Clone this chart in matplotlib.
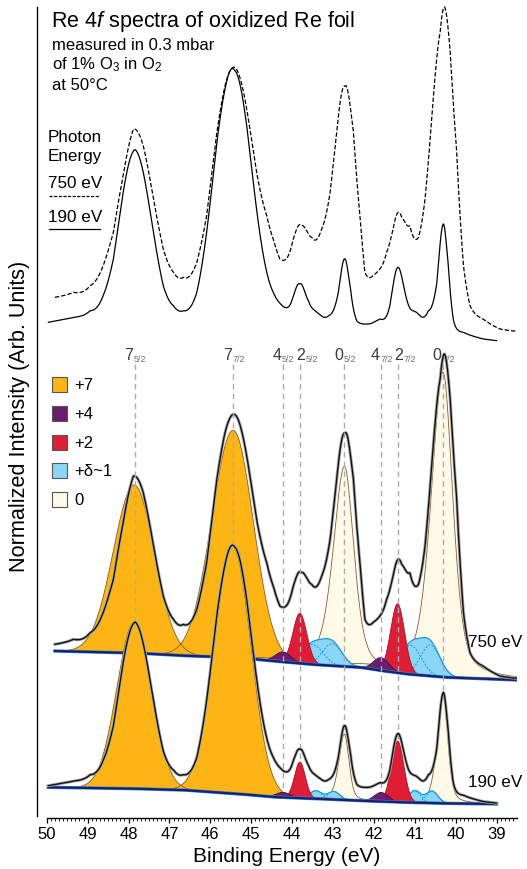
import numpy as np
import matplotlib
matplotlib.use("Agg")
import matplotlib.pyplot as plt
from matplotlib.patches import Rectangle
from matplotlib.lines import Line2D

plt.rcParams['font.family'] = ['Liberation Sans', 'DejaVu Sans']
plt.rcParams['mathtext.fontset'] = 'custom'
plt.rcParams['mathtext.rm'] = 'Liberation Sans'
plt.rcParams['mathtext.it'] = 'Liberation Sans:italic'

# ------------------------------------------------------------------ data
be_ticks = [50, 49, 48, 47, 46, 45, 44, 43, 42, 41, 40, 39]

level_main = ['7', '7', '4', '2', '0', '4', '2', '0']
level_sub = ['5/2', '7/2', '5/2', '5/2', '5/2', '7/2', '7/2', '7/2']
level_be = [47.85, 45.44, 44.22, 43.81, 42.72, 41.82, 41.42, 40.31]

states = ['+7', '+4', '+2', '+δ~1', '0']
state_fill = ['#FCB515', '#6B1E70', '#DD1E36', '#8BD6F6', '#FFFAE8']
state_edge = ['#8C5A22', '#3E1048', '#A0142A', '#1B9AD8', '#8B5A2B']

# fitted components: (binding energy, height, width high-BE side, width low-BE side, lorentz fraction)
c750 = {
    '+7':   [(47.86, 168, 0.60, 0.58, 0.0), (45.44, 227, 0.62, 0.58, 0.0)],
    '+4':   [(44.22, 10, 0.22, 0.22, 0.0), (41.82, 13, 0.22, 0.22, 0.0)],
    '+2':   [(43.81, 50, 0.20, 0.20, 0.0), (41.42, 69, 0.20, 0.20, 0.0)],
    '+δ~1': [(43.50, 20, 0.30, 0.30, 0.0), (43.02, 22, 0.28, 0.28, 0.0),
             (41.10, 29, 0.30, 0.30, 0.0), (40.62, 31, 0.28, 0.28, 0.0)],
    '0':    [(42.72, 200, 0.32, 0.27, 0.45), (40.31, 305, 0.34, 0.28, 0.45)],
}
c190 = {
    '+7':   [(47.86, 166, 0.50, 0.50, 0.0), (45.45, 247, 0.53, 0.52, 0.0)],
    '+4':   [(44.22, 5, 0.20, 0.20, 0.0), (41.82, 9, 0.20, 0.20, 0.0)],
    '+2':   [(43.81, 36, 0.155, 0.155, 0.0), (41.42, 61, 0.18, 0.18, 0.0)],
    '+δ~1': [(43.42, 8, 0.17, 0.17, 0.0), (42.98, 8, 0.17, 0.17, 0.0),
             (41.00, 12, 0.17, 0.17, 0.0), (40.58, 12, 0.17, 0.17, 0.0)],
    '0':    [(42.72, 66, 0.16, 0.13, 0.35), (40.31, 108, 0.17, 0.14, 0.4)],
}

# Shirley-type background (BE, intensity)
bg750_be = [49.8, 47.84, 46.66, 45.42, 44.6, 43.5, 42.34, 41.81, 41.2, 40.26, 38.5]
bg750_int = [29, 27, 24.3, 22.7, 19.5, 15.5, 12.7, 9.3, 6, 2.7, 0]
bg190_be = [50.0, 48.0, 46.66, 45.27, 44.46, 43.5, 42.34, 41.5, 40.5, 39.0]
bg190_int = [16.7, 15.5, 14, 10, 7, 5.5, 3.3, 2, 0.8, 0]

# measured spectra (BE, intensity)
raw750_be = [49.80, 49.35, 48.94, 48.62, 48.37, 48.13, 47.88, 47.64, 47.39, 47.15,
             46.90, 46.66, 46.33, 46.09, 45.84, 45.64, 45.44, 45.11, 44.87, 44.62,
             44.46, 44.30, 43.97, 43.77, 43.52, 43.28, 43.07, 42.91, 42.71, 42.50,
             42.34, 42.22, 42.01, 41.69, 41.53, 41.32, 41.12, 40.91, 40.75, 40.55,
             40.38, 40.29, 40.14, 39.98, 39.81, 39.65, 39.33, 38.92, 38.51]
raw750_int = [35.7, 40.7, 47.3, 67.3, 100.7, 157.3, 204, 187.3, 134, 84,
              60.7, 55.7, 70.7, 117.3, 200.7, 247.3, 265.7, 224, 160.7, 117.3,
              94, 74, 94, 107.3, 95.7, 104, 140.7, 200.7, 246.7, 200.7,
              117.3, 60.7, 58, 80.7, 104, 115.7, 107.3, 95.7, 134, 234,
              300.7, 325.7, 284, 184, 67.3, 27.3, 14, 4, 1.7]
raw190_be = [49.96, 49.35, 48.94, 48.62, 48.37, 48.13, 47.84, 47.64, 47.39, 47.15,
             46.90, 46.66, 46.33, 46.09, 45.84, 45.64, 45.40, 45.11, 44.87, 44.62,
             44.46, 44.21, 43.97, 43.81, 43.60, 43.40, 43.11, 42.87, 42.71, 42.58,
             42.42, 42.18, 41.85, 41.61, 41.40, 41.20, 40.96, 40.67, 40.46, 40.30,
             40.18, 40.06, 39.81, 39.33, 39.00]
raw190_int = [18.3, 23, 29.3, 43.5, 78.3, 141.5, 182, 160.5, 103.6, 53,
              34, 29.3, 46.7, 103.6, 189, 239.4, 256.8, 204.6, 125.7, 65.7,
              46.7, 33, 43.5, 54.6, 38.8, 27.8, 24.5, 46.7, 78.3, 53,
              19.8, 16.7, 21.4, 34, 70.4, 40.4, 27.8, 29.3, 56.2, 111.5,
              72, 21.4, 8.8, 2.5, 0.9]

photon_labels = ['750 eV', '190 eV']

# ------------------------------------------------------------------ helpers
def peak(x, c, h, wl, wr, eta):
    w = np.where(x > c, wl, wr)
    t = (x - c) / w
    return h * (eta / (1 + t ** 2) + (1 - eta) * np.exp(-np.log(2) * t ** 2))


def comp_sum(x, comps):
    return sum(peak(x, *p) for p in comps)


def model(x, comps, bgb, bgi):
    bg = np.interp(x, bgb[::-1], bgi[::-1])
    return bg, bg + sum(comp_sum(x, comps[s]) for s in states)


def spectrum(x, comps, bgb, bgi, rb, ri):
    # fit envelope plus the residual of the measured points
    bg, fit = model(x, comps, bgb, bgi)
    rb = np.asarray(rb)
    _, fit_r = model(rb, comps, bgb, bgi)
    resid = np.asarray(ri) - fit_r
    return bg, fit + np.interp(x, rb[::-1], resid[::-1])


W, H = 527, 870
fig = plt.figure(figsize=(W / 100, H / 100), dpi=100)
ax_l, ax_r = 36.7, 517.05
ax_t, ax_b = 8, 819.3
ax = fig.add_axes([ax_l / W, 1 - ax_b / H, (ax_r - ax_l) / W, (ax_b - ax_t) / H])
ax.set_xlim(50.245, 38.5)
ax.set_ylim(0, ax_b - ax_t)


def ypx(px):
    return ax_b - px


# vertical offsets / scales (layout)
off750_fit = ypx(681)
off190_fit = ypx(805)
off750_top, sc750_top = ypx(334), 1.0
off190_top, sc190_top = ypx(342.6), 1.055

x750 = np.linspace(49.8, 38.51, 1500)
x190 = np.linspace(49.96, 39.0, 1500)

bg750, raw750 = spectrum(x750, c750, bg750_be, bg750_int, raw750_be, raw750_int)
bg190, raw190 = spectrum(x190, c190, bg190_be, bg190_int, raw190_be, raw190_int)

# ---- top panel: measured spectra
ax.plot(x750, off750_top + sc750_top * raw750, color='black', lw=0.9,
        dashes=(3.5, 1.6), zorder=3, clip_on=False)
ax.plot(x190, off190_top + sc190_top * raw190, color='black', lw=0.9, zorder=3)


def draw_fit(x, comps, bg, raw, off, z):
    order = ['+7', '0', '+δ~1', '+2', '+4']
    for s in order:
        i = states.index(s)
        if s == '+δ~1':
            tot = comp_sum(x, comps[s])
            ax.fill_between(x, off + bg, off + bg + tot, facecolor=state_fill[i],
                            edgecolor='none', zorder=z)
            ax.plot(x, off + bg + tot, color=state_edge[i], lw=0.9, zorder=z + 0.1)
            for p in comps[s]:
                ax.plot(x, off + bg + peak(x, *p), color=state_edge[i], lw=0.7,
                        dashes=(2, 1.5), zorder=z + 0.1)
        else:
            for p in comps[s]:
                y = peak(x, *p)
                ax.fill_between(x, off + bg, off + bg + y, facecolor=state_fill[i],
                                edgecolor='none', zorder=z)
                ax.plot(x, off + bg + y, color=state_edge[i], lw=0.6, zorder=z + 0.1)
        z += 0.2
    ax.plot(x, off + bg, color='#1B9AD8', lw=2.4, zorder=z)
    ax.plot(x, off + bg, color='#2A1868', lw=1.6, zorder=z + 0.05)
    ax.plot(x, off + raw, color='#A8A8A8', lw=2.2, zorder=z + 0.1)
    ax.plot(x, off + raw, color='#111111', lw=1.0, zorder=z + 0.2)


draw_fit(x750, c750, bg750, raw750, off750_fit, 4)

# dashed level guide lines
for be in level_be:
    ybot = off190_fit + np.interp(be, bg190_be[::-1], bg190_int[::-1])
    ax.plot([be, be], [ypx(365), ybot], color='#ABABAB', lw=1.0,
            dashes=(4, 3), zorder=6.5)

draw_fit(x190, c190, bg190, raw190, off190_fit, 7)

# level labels
for m, s, be in zip(level_main, level_sub, level_be):
    if m == '2':
        ax.annotate(m, (be, ypx(360)), xytext=(0.5, 0), textcoords='offset points',
                    ha='center', va='baseline', fontsize=11.5, color='#3A3A3A')
        ax.annotate(s, (be, ypx(362)), xytext=(4.2, 0), textcoords='offset points',
                    ha='left', va='baseline', fontsize=6.5, color='#707070')
    else:
        ax.annotate(m, (be, ypx(360)), xytext=(-1.0, 0), textcoords='offset points',
                    ha='right', va='baseline', fontsize=11.5, color='#3A3A3A')
        ax.annotate(s, (be, ypx(362)), xytext=(-0.7, 0), textcoords='offset points',
                    ha='left', va='baseline', fontsize=6.5, color='#707070')

# photon energy labels on fits
ax.text(50 - (468 - 46.7) / 40.9, ypx(643), photon_labels[0], fontsize=12.3,
        ha='left', va='center')
ax.text(50 - (468 - 46.7) / 40.9, ypx(783), photon_labels[1], fontsize=12.3,
        ha='left', va='center')

# ---- axes styling
for sp in ['top', 'right']:
    ax.spines[sp].set_visible(False)
ax.spines['left'].set_bounds(ypx(816.5), ypx(8))
ax.spines['bottom'].set_bounds(50, 38.5)
ax.spines['left'].set_linewidth(1.0)
ax.spines['bottom'].set_linewidth(1.0)
ax.set_yticks([])
ax.set_xticks(be_ticks)
ax.set_xticks(np.arange(38.6, 50.01, 0.1), minor=True)
ax.tick_params(axis='x', which='major', length=3.5, width=0.9, labelsize=12, pad=2)
ax.tick_params(axis='x', which='minor', length=2, width=0.6)

# ---- texts in figure pixel coords
def ftext(x, y, s, **kw):
    fig.text(x / W, 1 - y / H, s, **kw)

ftext(51, 22, r'Re 4$\mathit{f}$ spectra of oxidized Re foil', fontsize=15.5, va='center')
ftext(52, 45, 'measured in 0.3 mbar', fontsize=12, va='center')
ftext(52, 65, r'of 1% O$_3$ in O$_2$', fontsize=12, va='center')
ftext(52, 85, 'at 50°C', fontsize=12, va='center')

ftext(48, 137, 'Photon', fontsize=12.3, va='center')
ftext(48, 157, 'Energy', fontsize=12.3, va='center')
ftext(48, 183, photon_labels[0], fontsize=12.3, va='center')
ftext(48, 218, photon_labels[1], fontsize=12.3, va='center')
fig.add_artist(Line2D([49 / W, 100 / W], [1 - 197 / H, 1 - 197 / H], color='black',
                      lw=0.9, dashes=(2.5, 1.2)))
fig.add_artist(Line2D([49 / W, 100 / W], [1 - 230 / H, 1 - 230 / H], color='black', lw=0.9))

# oxidation state legend
for k, (s, fc) in enumerate(zip(states, state_fill)):
    yc = 385.5 + 28.8 * k
    fig.add_artist(Rectangle((52 / W, 1 - (yc + 7.5) / H), 15 / W, 15 / H,
                             facecolor=fc, edgecolor='#555555', lw=0.8,
                             transform=fig.transFigure))
    ftext(74, yc, s, fontsize=12, va='center')

ftext(20, 416, 'Normalized Intensity (Arb. Units)', fontsize=15.6, rotation=90,
      va='center', ha='center')
ftext(287, 857, 'Binding Energy (eV)', fontsize=15, va='center', ha='center')

fig.savefig('out.png', dpi=100)
